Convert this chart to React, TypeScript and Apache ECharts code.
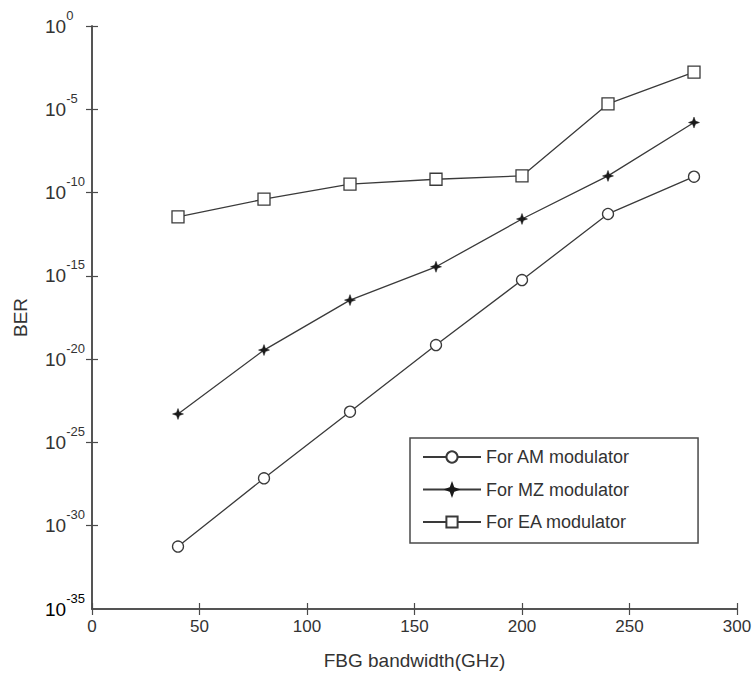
import React, { useEffect, useRef } from 'react';
import * as echarts from 'echarts';

// FBG bandwidth (GHz)
const bandwidth = [40, 80, 120, 160, 200, 240, 280];
// BER values
const berAM = [5.6e-32, 7e-28, 7e-24, 7e-20, 5.6e-16, 5.2e-12, 9e-10];
const berMZ = [5.1e-24, 3.5e-20, 3.5e-17, 3.5e-15, 2.6e-12, 1e-9, 1.6e-6];
const berEA = [3.5e-12, 4e-11, 3.2e-10, 6.3e-10, 1e-9, 2.1e-5, 1.7e-3];
const seriesNames = ['For AM modulator', 'For MZ modulator', 'For EA modulator'];
const xMin = 0;
const xMax = 300;
const xInterval = 50;
const yMin = 1e-35;
const yMax = 1;
const yDecadeStep = 5;

const FONT = '"Liberation Sans", Arial, Helvetica, sans-serif';
const TEXT = '#333';
const AXIS = '#4a4a4a';
const LINE = '#3a3a3a';
const STAR = 'path://M0,-6 L1.6,-1.6 L6,0 L1.6,1.6 L0,6 L-1.6,1.6 L-6,0 L-1.6,-1.6 Z';
const Y_LABEL_MARGIN = 47;

const powRich = {
  b: { fontFamily: FONT, fontSize: 19, color: TEXT, lineHeight: 20 },
  s: { fontFamily: FONT, fontSize: 13, color: TEXT, lineHeight: 13, padding: [0, 0, 22, 0] },
};
const powText = (v: number) => '{b|10}{s|' + Math.round(Math.log10(v)) + '}';

export default function App() {
  const ref = useRef<HTMLDivElement>(null);
  useEffect(() => {
    if (!ref.current) return;
    const chart = echarts.init(ref.current, null, { renderer: 'svg' });
    const pairs = (ys: number[]) => bandwidth.map((x, i) => [x, ys[i]]);
    const axisLineStyle = { lineStyle: { color: AXIS, width: 1.5 } };
    const tickStyle = { show: true, inside: true, length: 6, lineStyle: { color: AXIS, width: 1.2 } };
    chart.setOption({
      animation: false,
      backgroundColor: '#fff',
      textStyle: { fontFamily: FONT },
      grid: { left: 92, top: 26, width: 645, height: 583, containLabel: false, outerBoundsMode: 'none' },
      legend: {
        left: 410,
        top: 438,
        orient: 'vertical',
        itemWidth: 58,
        itemHeight: 14,
        itemGap: 14.5,
        padding: [10, 68, 12, 12],
        borderColor: AXIS,
        borderWidth: 1.5,
        backgroundColor: '#fff',
        textStyle: { fontFamily: FONT, fontSize: 18, color: TEXT, lineHeight: 18 },
        data: seriesNames,
      },
      xAxis: [
        {
          type: 'value',
          min: xMin,
          max: xMax,
          interval: xInterval,
          position: 'bottom',
          name: 'FBG bandwidth(GHz)',
          nameLocation: 'middle',
          nameGap: 42,
          nameMoveOverlap: false,
          nameTextStyle: { fontFamily: FONT, fontSize: 19, color: TEXT },
          axisLine: { show: true, ...axisLineStyle },
          axisTick: tickStyle,
          axisLabel: { fontFamily: FONT, fontSize: 17, color: TEXT, margin: 9, hideOverlap: false },
          splitLine: { show: false },
        },
        {
          type: 'value',
          min: xMin,
          max: xMax,
          interval: xInterval,
          position: 'top',
          axisLine: { show: true, ...axisLineStyle },
          axisTick: tickStyle,
          axisLabel: { show: false },
          splitLine: { show: false },
        },
      ],
      yAxis: [
        {
          type: 'log',
          logBase: 10,
          min: yMin,
          max: yMax,
          interval: yDecadeStep,
          position: 'left',
          name: 'BER',
          nameLocation: 'middle',
          nameGap: 62,
          nameRotate: 90,
          nameMoveOverlap: false,
          nameTextStyle: { fontFamily: FONT, fontSize: 19, color: TEXT },
          axisLine: { show: true, ...axisLineStyle },
          axisTick: tickStyle,
          axisLabel: {
            margin: Y_LABEL_MARGIN,
            align: 'left',
            showMinLabel: false,
            showMaxLabel: true,
            hideOverlap: false,
            formatter: powText,
            rich: powRich,
          },
          splitLine: { show: false },
        },
        {
          type: 'log',
          logBase: 10,
          min: yMin,
          max: yMax,
          interval: yDecadeStep,
          position: 'right',
          axisLine: { show: true, ...axisLineStyle },
          axisTick: tickStyle,
          axisLabel: { show: false },
          splitLine: { show: false },
        },
      ],
      series: [
        {
          name: seriesNames[0],
          type: 'line',
          data: pairs(berAM),
          symbol: 'circle',
          symbolSize: 11,
          lineStyle: { color: LINE, width: 1.3 },
          itemStyle: { color: '#fff', borderColor: LINE, borderWidth: 1.3 },
        },
        {
          name: seriesNames[1],
          type: 'line',
          data: pairs(berMZ),
          symbol: STAR,
          symbolSize: 11,
          lineStyle: { color: LINE, width: 1.3 },
          itemStyle: { color: '#1a1a1a', borderColor: '#1a1a1a', borderWidth: 0.5 },
        },
        {
          name: seriesNames[2],
          type: 'line',
          data: pairs(berEA),
          symbol: 'rect',
          symbolSize: 12,
          lineStyle: { color: LINE, width: 1.3 },
          itemStyle: { color: '#fff', borderColor: LINE, borderWidth: 1.3 },
        },
      ],
    });
    // Bottom (min) tick label of the log axis, placed through the axis scale.
    const minY = chart.convertToPixel({ yAxisIndex: 0 }, yMin) as number;
    const axisX = chart.convertToPixel({ xAxisIndex: 0 }, xMin) as number;
    if (isFinite(minY) && isFinite(axisX)) {
      chart.setOption({
        graphic: [
          {
            type: 'text',
            x: axisX - Y_LABEL_MARGIN,
            y: minY,
            silent: true,
            style: {
              text: powText(yMin),
              rich: powRich,
              align: 'left',
              verticalAlign: 'middle',
            },
          },
        ],
      });
    }
    return () => chart.dispose();
  }, []);
  return (
    <div
      ref={ref}
      style={{ position: 'fixed', left: 0, top: 0, width: 755, height: 674, background: '#fff' }}
    />
  );
}
